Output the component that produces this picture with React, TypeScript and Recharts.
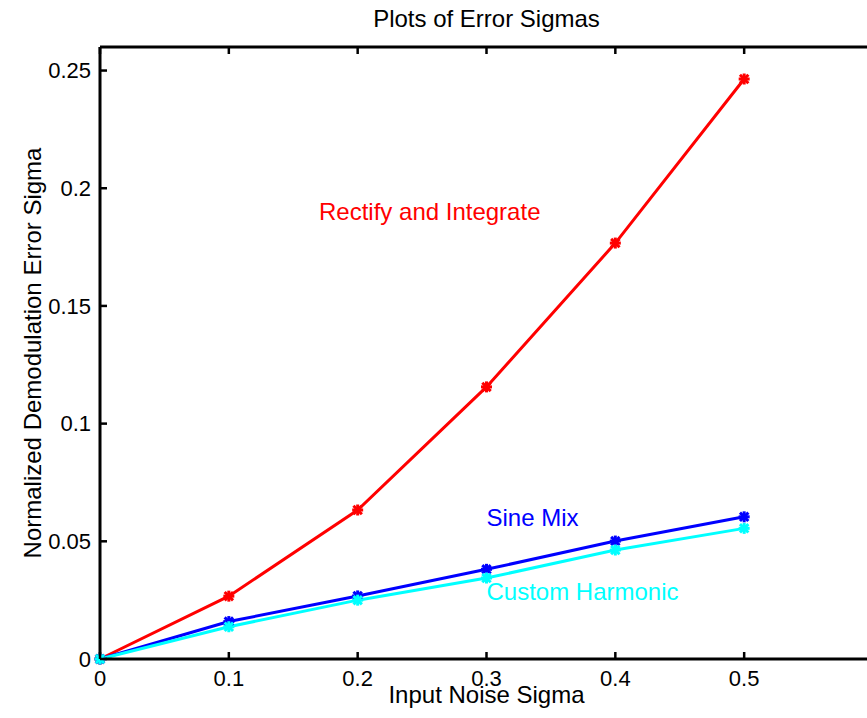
import React from "react";
import {
  LineChart,
  Line,
  XAxis,
  YAxis,
  ReferenceDot,
} from "recharts";

// input noise sigma values
const noiseSigma = [0, 0.1, 0.2, 0.3, 0.4, 0.5];

// normalized demodulation error sigma per method
const rectifyIntegrate = [0, 0.0267, 0.0633, 0.1156, 0.1767, 0.2464];
const sineMix = [0, 0.0159, 0.0268, 0.0381, 0.0501, 0.0604];
const customHarmonic = [0, 0.0137, 0.025, 0.0344, 0.0463, 0.0555];

const xTicks = [0, 0.1, 0.2, 0.3, 0.4, 0.5];
const yTicks = [0, 0.05, 0.1, 0.15, 0.2, 0.25];

const data = noiseSigma.map((x, i) => ({
  x,
  rect: rectifyIntegrate[i],
  sine: sineMix[i],
  harm: customHarmonic[i],
}));

const FONT = "'Liberation Sans', Arial, Helvetica, sans-serif";
const TICK_LEN = 7;
const X_GAP = 11;
const Y_GAP = 9;

// matlab style '*' marker, drawn thick so it reads like a blob
function StarDot(props: any) {
  const { cx, cy, color } = props;
  if (cx == null || cy == null) return null;
  const r = 5.5;
  const d = 4.2;
  return (
    <g stroke={color} strokeWidth={3}>
      <line x1={cx - r} y1={cy} x2={cx + r} y2={cy} />
      <line x1={cx} y1={cy - r} x2={cx} y2={cy + r} />
      <line x1={cx - d} y1={cy - d} x2={cx + d} y2={cy + d} />
      <line x1={cx - d} y1={cy + d} x2={cx + d} y2={cy - d} />
    </g>
  );
}

// inward ticks, matlab style (label position minus the gap gives the axis)
const bottomTick = (p: any) => {
  const x = Number(p.x);
  const y = Number(p.y);
  const axisY = y - X_GAP;
  return (
    <g key={`b-${p.index}`}>
      <path d={`M${x},${axisY}V${axisY - TICK_LEN}`} stroke="#000" strokeWidth={2.5} fill="none" />
      <text x={x} y={y} dy="0.71em" textAnchor="middle" fill="#000" fontSize={22} fontFamily={FONT}>
        {p.payload.value}
      </text>
    </g>
  );
};

const leftTick = (p: any) => {
  const x = Number(p.x);
  const y = Number(p.y);
  const axisX = x + Y_GAP;
  return (
    <g key={`l-${p.index}`}>
      <path d={`M${axisX},${y}H${axisX + TICK_LEN}`} stroke="#000" strokeWidth={2.5} fill="none" />
      <text x={x} y={y} dy="0.355em" textAnchor="end" fill="#000" fontSize={22} fontFamily={FONT}>
        {p.payload.value}
      </text>
    </g>
  );
};

const topTick = (p: any) => {
  const x = Number(p.x);
  const y = Number(p.y);
  return (
    <path key={`t-${p.index}`} d={`M${x},${y}V${y + TICK_LEN}`} stroke="#000" strokeWidth={2.5} fill="none" />
  );
};

const rightTick = (p: any) => {
  const x = Number(p.x);
  const y = Number(p.y);
  return (
    <path key={`r-${p.index}`} d={`M${x},${y}H${x - TICK_LEN}`} stroke="#000" strokeWidth={2.5} fill="none" />
  );
};

const axisLine = { stroke: "#000", strokeWidth: 3 };

export default function App() {
  return (
    <div
      style={{
        position: "fixed",
        left: 0,
        top: 0,
        width: 867,
        height: 718,
        overflow: "hidden",
        background: "#fff",
      }}
    >
      <LineChart
        width={880}
        height={718}
        data={data}
        margin={{ top: 46, right: 6, bottom: 0, left: 0 }}
        style={{ fontFamily: FONT }}
      >
        <XAxis
          dataKey="x"
          type="number"
          domain={[0, 0.6]}
          ticks={xTicks}
          height={59}
          axisLine={axisLine}
          tickLine={false}
          tickSize={0}
          tickMargin={X_GAP}
          tick={bottomTick}
          interval={0}
          label={{
            value: "Input Noise Sigma",
            position: "insideBottom",
            offset: 15,
            fill: "#000",
            fontSize: 24,
            fontFamily: FONT,
          }}
        />
        <XAxis
          xAxisId="top"
          orientation="top"
          dataKey="x"
          type="number"
          domain={[0, 0.6]}
          ticks={xTicks}
          height={1}
          axisLine={axisLine}
          tickLine={false}
          tickSize={0}
          tickMargin={0}
          tick={topTick}
          interval={0}
          label={{
            value: "Plots of Error Sigmas",
            position: "top",
            offset: 19,
            fill: "#000",
            fontSize: 24,
            fontFamily: FONT,
          }}
        />
        <YAxis
          type="number"
          domain={[0, 0.26]}
          ticks={yTicks}
          width={100}
          axisLine={axisLine}
          tickLine={false}
          tickSize={0}
          tickMargin={Y_GAP}
          tick={leftTick}
          interval={0}
          label={{
            value: "Normalized Demodulation Error Sigma",
            angle: -90,
            position: "insideLeft",
            offset: 32,
            fill: "#000",
            fontSize: 24,
            fontFamily: FONT,
            style: { textAnchor: "middle" },
          }}
        />
        <YAxis
          yAxisId="right"
          orientation="right"
          type="number"
          domain={[0, 0.26]}
          ticks={yTicks}
          width={1}
          axisLine={axisLine}
          tickLine={false}
          tickSize={0}
          tickMargin={0}
          tick={rightTick}
          interval={0}
        />
        <Line
          dataKey="rect"
          stroke="#ff0000"
          strokeWidth={3}
          dot={<StarDot color="#ff0000" />}
          isAnimationActive={false}
        />
        <Line
          dataKey="sine"
          stroke="#0000ff"
          strokeWidth={3}
          dot={<StarDot color="#0000ff" />}
          isAnimationActive={false}
        />
        <Line
          dataKey="harm"
          stroke="#00ffff"
          strokeWidth={3}
          dot={<StarDot color="#00ffff" />}
          isAnimationActive={false}
        />
        <ReferenceDot
          x={0.17}
          y={0.19}
          r={0}
          fill="none"
          stroke="none"
          label={{
            value: "Rectify and Integrate",
            position: "right",
            offset: 0,
            fill: "#ff0000",
            fontSize: 24,
            fontFamily: FONT,
          }}
        />
        <ReferenceDot
          x={0.3}
          y={0.0603}
          r={0}
          fill="none"
          stroke="none"
          label={{
            value: "Sine Mix",
            position: "right",
            offset: 0,
            fill: "#0000ff",
            fontSize: 24,
            fontFamily: FONT,
          }}
        />
        <ReferenceDot
          x={0.3}
          y={0.0285}
          r={0}
          fill="none"
          stroke="none"
          label={{
            value: "Custom Harmonic",
            position: "right",
            offset: 0,
            fill: "#00ffff",
            fontSize: 24,
            fontFamily: FONT,
          }}
        />
      </LineChart>
    </div>
  );
}
